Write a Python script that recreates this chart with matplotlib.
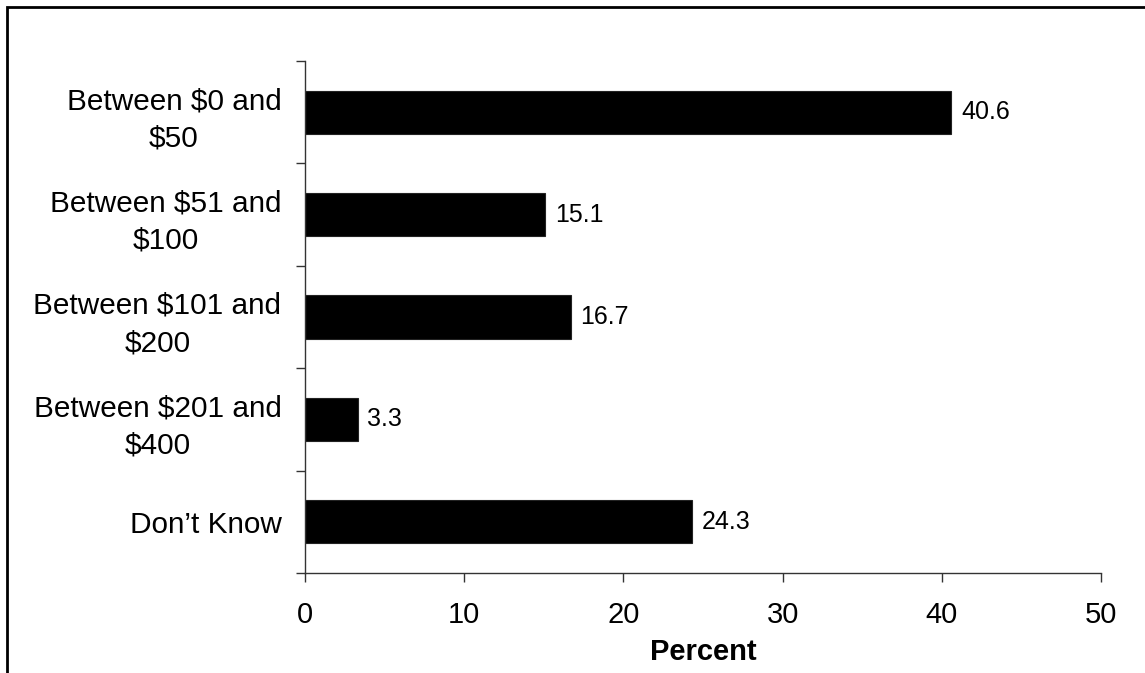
import numpy as np
import matplotlib
matplotlib.use("Agg")
import matplotlib.pyplot as plt
from matplotlib.patches import Rectangle

plt.rcParams['font.family'] = ['Liberation Sans', 'DejaVu Sans']

# chart data
categories = ["Between $0 and\n$50", "Between $51 and\n$100", "Between $101 and\n$200",
               "Between $201 and\n$400", "Don\u2019t Know"]
percent = [40.6, 15.1, 16.7, 3.3, 24.3]
x_ticks = [0, 10, 20, 30, 40, 50]

fig = plt.figure(figsize=(11.45, 6.73), dpi=100)
ax = fig.add_axes([305 / 1145, 1 - 573 / 673, (1101 - 305) / 1145, (573 - 61) / 673])

# outer frame (top and left edges visible, rest runs off the picture)
fig.patches.append(Rectangle((7 / 1145, -0.1), 1.2, 1 - 7 / 673 + 0.1,
                             transform=fig.transFigure, fill=False,
                             edgecolor='black', linewidth=2))

y = np.arange(len(categories))
bars = ax.barh(y, percent, height=0.42, color='black', edgecolor='#222222', linewidth=0.8)

for yi, v in zip(y, percent):
    ax.text(v + 0.6, yi, f"{v:.1f}", va='center', ha='left', fontsize=18)

ax.set_ylim(len(categories) - 0.5, -0.5)
ax.set_xlim(0, 50)
ax.set_xticks(x_ticks)
ax.set_xticklabels([str(t) for t in x_ticks], fontsize=21)
ax.set_yticks(y)
ax.set_yticklabels(categories, fontsize=21.4, multialignment='center', linespacing=1.42)
ax.set_yticks(np.arange(-0.5, len(categories) + 0.5, 1), minor=True)
ax.tick_params(axis='y', which='major', length=0, pad=17)
ax.tick_params(axis='y', which='minor', length=9 * 0.72, width=1, color='#333333', direction='out')
ax.tick_params(axis='x', length=9 * 0.72, width=1, color='#333333', direction='out', pad=14)

ax.set_xlabel("Percent", fontsize=21, fontweight='bold', labelpad=6)

for s in ['top', 'right']:
    ax.spines[s].set_visible(False)
for s in ['left', 'bottom']:
    ax.spines[s].set_color('#333333')
    ax.spines[s].set_linewidth(1)

fig.savefig("out.png", dpi=100)
